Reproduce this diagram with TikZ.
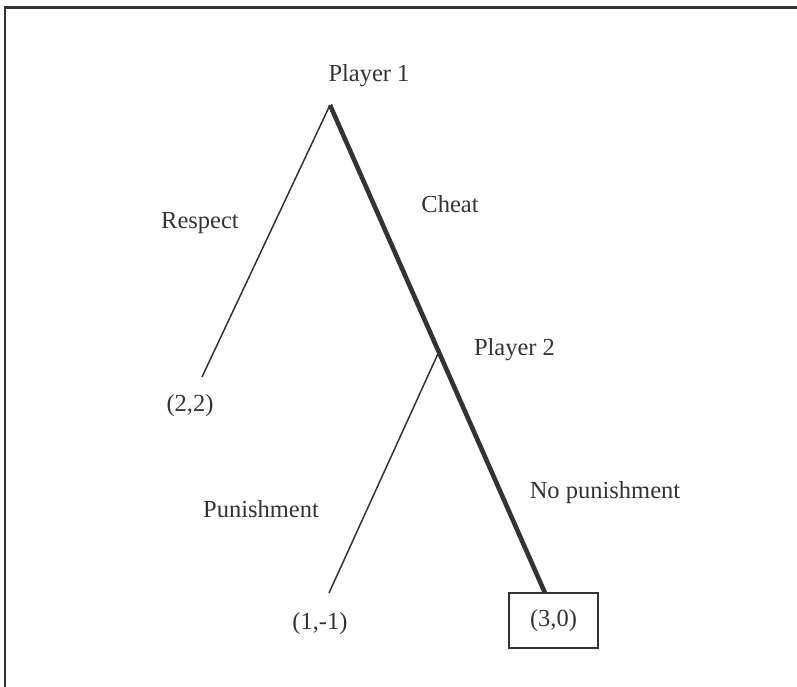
\documentclass[tikz,border=0pt]{standalone}
\usepackage{fontspec}
\setmainfont{Liberation Serif}
\usetikzlibrary{calc}
\definecolor{ink}{HTML}{333333}
\begin{document}
\begin{tikzpicture}[x=1pt,y=-1pt,
  lbl/.style={anchor=base,inner sep=0pt,text=ink,font=\fontsize{24.5}{28}\selectfont},
  thinedge/.style={draw=ink,line width=1.5pt},
  thickedge/.style={draw=ink,line width=4.6pt},
  payoffbox/.style={draw=ink,line width=1.6pt,minimum width=89pt,minimum height=55pt,inner sep=0pt,text=ink,font=\fontsize{24.5}{28}\selectfont}]
\useasboundingbox (0,0) rectangle (797,686);
% frame
\draw[ink,line width=2.2pt] (5,690) -- (5,7.5) -- (800,7.5);
% points
\coordinate (p1) at (330,105);
\coordinate (rend) at (202,377);
\coordinate (pend) at (329,593);
\node[payoffbox] (b30) at (553.5,620.5) {(3,0)};
\coordinate (cend) at (545,593);
\coordinate (p2) at ($(p1)!0.506!(cend)$);
% edges
\draw[thinedge] (p1) -- (rend);
\draw[thinedge] (p2) -- (pend);
\draw[thickedge] (p1) -- (cend);
% labels
\node[lbl] (lp1) at (369,81) {Player 1};
\node[lbl] (lresp) at (200,228) {Respect};
\node[lbl] (lcheat) at (450,212) {Cheat};
\node[lbl] (lp2) at (514.5,355) {Player 2};
\node[lbl] (l22) at (190,411) {(2,2)};
\node[lbl] (lpun) at (261,517) {Punishment};
\node[lbl] (lnopun) at (605,498) {No punishment};
\node[lbl] (l1m1) at (320,629) {(1,-1)};
\end{tikzpicture}
\end{document}
